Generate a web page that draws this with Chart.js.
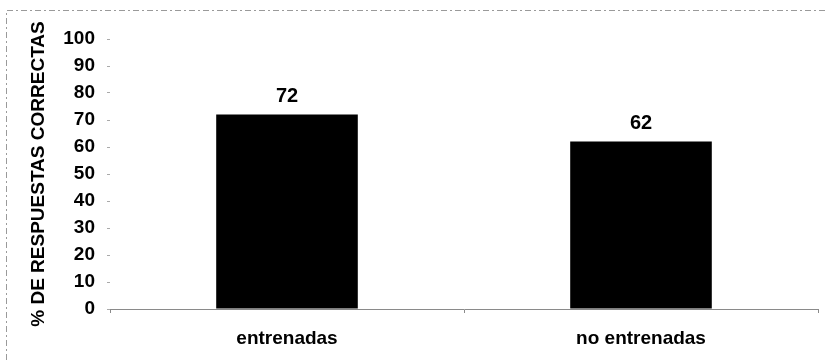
<!DOCTYPE html>
<html>
<head>
<meta charset="utf-8">
<script src="https://cdn.jsdelivr.net/npm/chart.js@4/dist/chart.umd.min.js"></script>
<style>
  html, body { margin: 0; padding: 0; background: #fff; }
  #wrap { width: 826px; height: 360px; }
</style>
</head>
<body>
<div id="wrap"><canvas id="chart" width="826" height="360"></canvas></div>
<script>
const categorias = ['entrenadas', 'no entrenadas'];
const valores = [72, 62];
const tituloY = '% DE RESPUESTAS CORRECTAS';

const fuente = 'Liberation Sans, Arial, sans-serif';

// etiquetas de valor encima de cada barra
const etiquetasValor = {
  id: 'etiquetasValor',
  afterDatasetsDraw(chart) {
    const ctx = chart.ctx;
    const meta = chart.getDatasetMeta(0);
    ctx.save();
    ctx.font = 'bold 20px ' + fuente;
    ctx.fillStyle = '#000';
    ctx.textAlign = 'center';
    ctx.textBaseline = 'bottom';
    meta.data.forEach((bar, i) => {
      ctx.fillText(valores[i], bar.x, bar.y - 8);
    });
    ctx.restore();
  }
};

// marco punteado (solo arriba e izquierda, como en el original escaneado)
const marco = {
  id: 'marco',
  beforeDraw(chart) {
    const ctx = chart.ctx;
    ctx.save();
    ctx.strokeStyle = '#9a9a9a';
    ctx.lineWidth = 1;
    ctx.setLineDash([6, 3, 2, 3]);
    ctx.beginPath();
    ctx.moveTo(6.5, 360);
    ctx.lineTo(6.5, 10.5);
    ctx.lineTo(826, 10.5);
    ctx.stroke();
    ctx.restore();
  }
};

const ctx = document.getElementById('chart').getContext('2d');
new Chart(ctx, {
  type: 'bar',
  data: {
    labels: categorias,
    datasets: [{
      data: valores,
      backgroundColor: '#000',
      borderWidth: 0,
      categoryPercentage: 1,
      barPercentage: 0.4,
    }],
  },
  options: {
    responsive: false,
    animation: false,
    layout: { padding: { left: 27, top: 39, right: 8, bottom: 0 } },
    plugins: {
      legend: { display: false },
      tooltip: { enabled: false },
    },
    scales: {
      x: {
        afterFit(s) { s.height = 51; },
        grid: { display: true, drawOnChartArea: false, offset: true, tickLength: 4, color: '#8a8a8a' },
        border: { display: true, color: '#8a8a8a', dash: [8, 2] },
        ticks: { color: '#000', padding: 14, font: { family: fuente, size: 19, weight: 'bold' } },
      },
      y: {
        min: 0,
        max: 100,
        afterFit(s) { s.width = 83; },
        grid: { display: true, drawOnChartArea: false, tickLength: 3, color: '#aaa' },
        border: { display: false },
        ticks: { stepSize: 10, color: '#000', padding: 12, font: { family: fuente, size: 19, weight: 'bold' } },
        title: {
          display: true,
          text: tituloY,
          color: '#000',
          padding: 0,
          font: { family: fuente, size: 19, weight: 'bold' },
        },
      },
    },
  },
  plugins: [etiquetasValor, marco],
});
</script>
</body>
</html>
